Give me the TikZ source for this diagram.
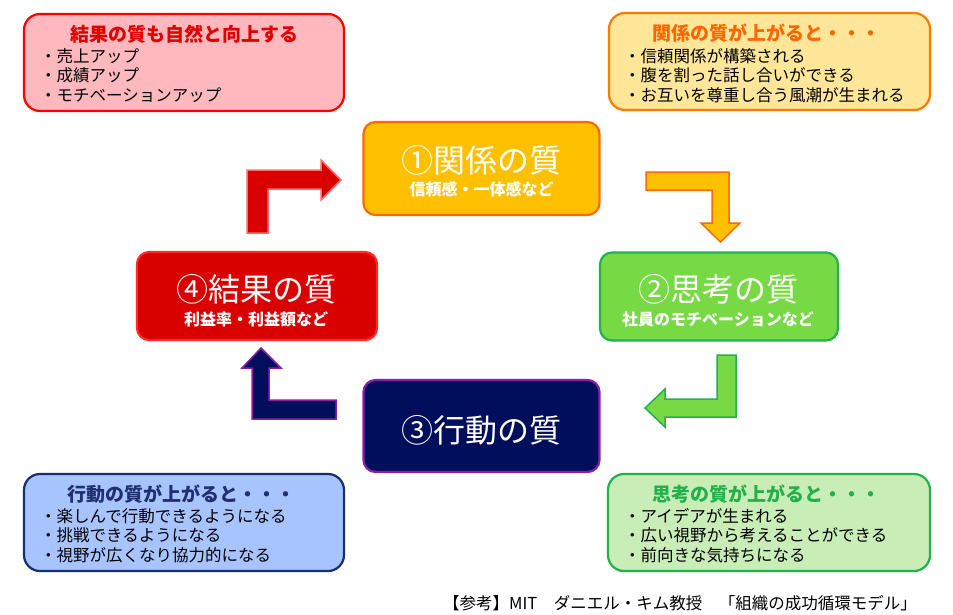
\documentclass[tikz,border=0pt]{standalone}
\usepackage{fontspec}
\setmainfont{Noto Sans CJK JP}
\definecolor{kRed}{HTML}{D90000}
\definecolor{kRedB}{HTML}{FF2B2B}
\definecolor{kOrg}{HTML}{FFC000}
\definecolor{kOrgB}{HTML}{FF6A00}
\definecolor{kGrn}{HTML}{77D944}
\definecolor{kGrnB}{HTML}{22B14C}
\definecolor{kNavy}{HTML}{000E5C}
\definecolor{kPur}{HTML}{8B1FA9}
\definecolor{pinkF}{HTML}{FFB8BD}
\definecolor{pinkB}{HTML}{FF0000}
\definecolor{yelF}{HTML}{FFE699}
\definecolor{yelB}{HTML}{FF7A00}
\definecolor{bluF}{HTML}{A8C4FF}
\definecolor{bluB}{HTML}{1A2E6E}
\definecolor{lgrF}{HTML}{C9EDB6}
\definecolor{lgrB}{HTML}{22B14C}
\definecolor{tRed}{HTML}{E00000}
\definecolor{tOrg}{HTML}{FF6600}
\definecolor{tNavy}{HTML}{1F3070}
\definecolor{tGrn}{HTML}{22B04A}
\begin{document}
\begin{tikzpicture}[x=1pt,y=-1pt,
  mainbox/.style={draw,line width=2.2pt,rounded corners=12pt,minimum width=236pt,minimum height=91pt,inner sep=0pt},
  infobox/.style={draw,line width=2.2pt,rounded corners=16pt,minimum width=320pt,minimum height=97pt,inner sep=0pt},
  maintxt/.style={text=white,font=\fontsize{32}{36}\selectfont,inner sep=0pt},
  subtxt/.style={text=white,font=\bfseries\fontsize{16}{18}\selectfont,inner sep=0pt},
  titletxt/.style={font=\bfseries\fontsize{19}{22}\selectfont,inner sep=0pt},
  bullettxt/.style={font=\fontsize{16.5}{19.5}\selectfont,align=left,anchor=west,inner sep=0pt,text=black},
  barrow/.style={line width=1.5pt,line join=miter}
]
\useasboundingbox[fill=white] (0,0) rectangle (953,614);

% info boxes
\node[infobox,fill=pinkF,draw=pinkB] (ib1) at (184,62.5) {};
\node[titletxt,text=tRed] (ib1t) at (184,34) {結果の質も自然と向上する};
\node[bullettxt] (ib1b) at (40,75.5) {・売上アップ\\・成績アップ\\・モチベーションアップ};

\node[infobox,fill=yelF,draw=yelB,minimum width=321pt,minimum height=97pt] (ib2) at (769.5,61.5) {};
\node[titletxt,text=tOrg] (ib2t) at (766,33) {関係の質が上がると・・・};
\node[bullettxt] (ib2b) at (624,75.5) {・信頼関係が構築される\\・腹を割った話し合いができる\\・お互いを尊重し合う風潮が生まれる};

\node[infobox,fill=bluF,draw=bluB] (ib3) at (184,522.5) {};
\node[titletxt,text=tNavy] (ib3t) at (181,494) {行動の質が上がると・・・};
\node[bullettxt] (ib3b) at (40,535.5) {・楽しんで行動できるようになる\\・挑戦できるようになる\\・視野が広くなり協力的になる};

\node[infobox,fill=lgrF,draw=lgrB,minimum width=322pt] (ib4) at (769,522.5) {};
\node[titletxt,text=tGrn] (ib4t) at (766,494) {思考の質が上がると・・・};
\node[bullettxt] (ib4b) at (624,535.5) {・アイデアが生まれる\\・広い視野から考えることができる\\・前向きな気持ちになる};

% main boxes
\node[mainbox,fill=kOrg,draw=kOrgB,minimum height=93pt] (q1) at (481.5,168.5) {};
\node[maintxt] (q1t) at (481.5,160) {①関係の質};
\node[subtxt] (q1s) at (481.5,189.5) {信頼感・一体感など};

\node[mainbox,fill=kGrn,draw=kGrnB,minimum width=238pt,minimum height=88pt] (q2) at (719,296.5) {};
\node[maintxt] (q2t) at (718,289) {②思考の質};
\node[subtxt] (q2s) at (718,319) {社員のモチベーションなど};

\node[mainbox,fill=kNavy,draw=kPur,minimum height=92pt] (q3) at (481.5,426) {};
\node[maintxt] (q3t) at (481,430) {③行動の質};

\node[mainbox,fill=kRed,draw=kRedB,minimum width=240pt,minimum height=88pt] (q4) at (257,296) {};
\node[maintxt] (q4t) at (256,289) {④結果の質};
\node[subtxt] (q4s) at (256,319) {利益率・利益額など};

% block arrows
\draw[barrow,fill=kRed,draw=kRedB!70] (247,233) -- (247,170) -- (321,170) -- (321,160) -- (341,180) -- (321,200) -- (321,189) -- (268,189) -- (268,233) -- cycle;
\draw[barrow,fill=kOrg,draw=kOrgB] (646,172) -- (729,172) -- (729,223) -- (740,223) -- (720.5,242) -- (701,223) -- (712,223) -- (712,190) -- (646,190) -- cycle;
\draw[barrow,fill=kGrn,draw=kGrnB] (736,355) -- (736,417) -- (665,417) -- (665,427) -- (645,408) -- (665,389) -- (665,399) -- (717,399) -- (717,355) -- cycle;
\draw[barrow,fill=kNavy,draw=kPur] (336,419) -- (252,419) -- (252,368) -- (242,368) -- (261,348) -- (281,368) -- (269,368) -- (269,400) -- (336,400) -- cycle;

% footnote
\node[anchor=east,inner sep=0pt,font=\fontsize{16.5}{18}\selectfont] (fn) at (917,603) {【参考】MIT　ダニエル・キム教授　「組織の成功循環モデル」};
\end{tikzpicture}
\end{document}
